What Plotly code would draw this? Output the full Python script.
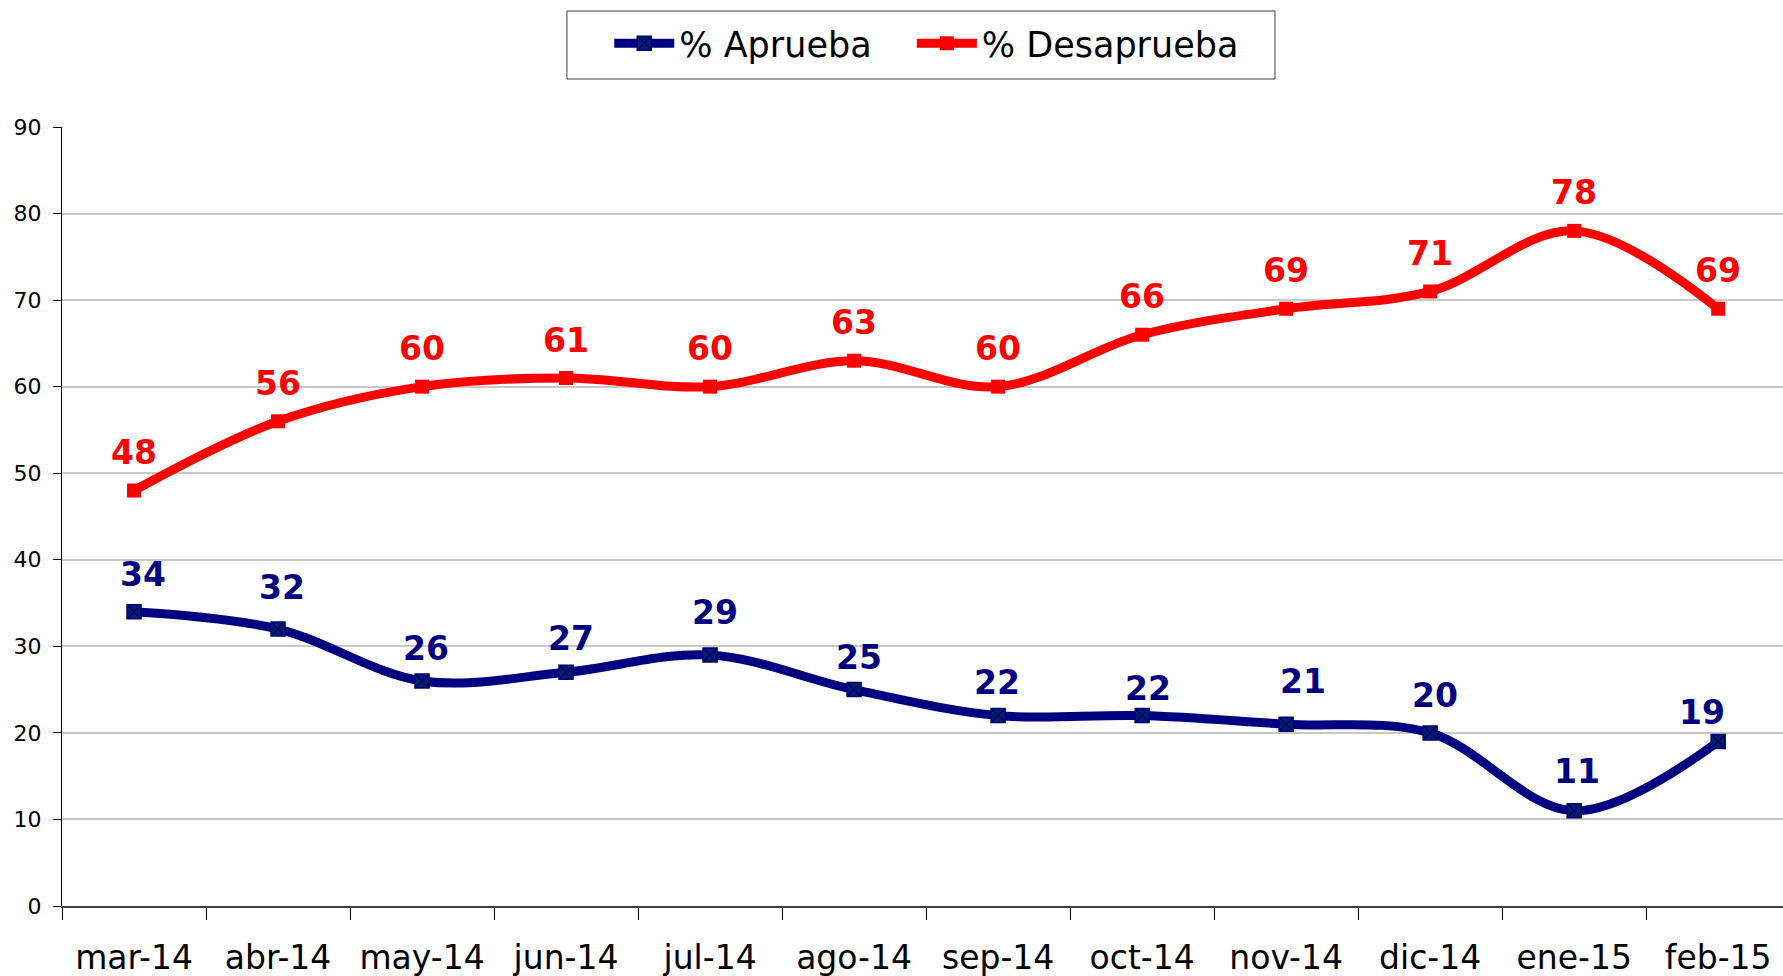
import plotly.graph_objects as go

months = ["mar-14", "abr-14", "may-14", "jun-14", "jul-14", "ago-14",
          "sep-14", "oct-14", "nov-14", "dic-14", "ene-15", "feb-15"]
aprueba = [34, 32, 26, 27, 29, 25, 22, 22, 21, 20, 11, 19]
desaprueba = [48, 56, 60, 61, 60, 63, 60, 66, 69, 71, 78, 69]
yticks = [0, 10, 20, 30, 40, 50, 60, 70, 80, 90]

# label offsets in pixels (style only)
blue_dx = [9, 4, 4, 5, 5, 5, -1, 6, 17, 5, 3, -16]
blue_dy = [37, 42, 32, 34, 42, 32, 33, 27, 43, 37, 39, 29]
red_dx = [0] * 12
red_dy = [38] * 12

FONT = "DejaVu Sans, Verdana, sans-serif"
BLUE = "#000080"
RED = "#FF0000"

fig = go.Figure()
fig.add_trace(go.Scatter(
    x=months, y=aprueba, name="% Aprueba", mode="lines+markers",
    line=dict(color=BLUE, width=9, shape="spline", smoothing=1.0),
    marker=dict(symbol="square-x", size=14, color="#002060",
                line=dict(color=BLUE, width=1.5)),
    legend="legend",
))
fig.add_trace(go.Scatter(
    x=months, y=desaprueba, name="% Desaprueba", mode="lines+markers",
    line=dict(color=RED, width=9, shape="spline", smoothing=1.0),
    marker=dict(symbol="square", size=14, color=RED),
    legend="legend2",
))

annotations = []
for i, m in enumerate(months):
    annotations.append(dict(
        x=m, y=aprueba[i], text=f"<b>{aprueba[i]}</b>", showarrow=False,
        xshift=blue_dx[i], yshift=blue_dy[i],
        font=dict(family=FONT, size=33, color=BLUE),
        xanchor="center", yanchor="middle"))
    annotations.append(dict(
        x=m, y=desaprueba[i], text=f"<b>{desaprueba[i]}</b>", showarrow=False,
        xshift=red_dx[i], yshift=red_dy[i],
        font=dict(family=FONT, size=33, color=RED),
        xanchor="center", yanchor="middle"))

legend_style = dict(
    orientation="h", xanchor="left", y=1.145, yanchor="top",
    font=dict(family=FONT, size=35, color="black"),
    borderwidth=0, bgcolor="rgba(0,0,0,0)", itemwidth=60,
)

fig.update_layout(
    width=1783, height=976,
    margin=dict(l=62, r=0, t=127, b=70, autoexpand=False),
    paper_bgcolor="white", plot_bgcolor="white",
    font=dict(family=FONT, color="black"),
    showlegend=True,
    legend=dict(x=0.318, **legend_style),
    legend2=dict(x=0.4938, **legend_style),
    shapes=[dict(type="rect", xref="paper", yref="paper",
                 x0=0.2934, x1=0.7048, y0=1.0616, y1=1.1489,
                 line=dict(color="#404040", width=1), fillcolor="rgba(0,0,0,0)",
                 layer="below")],
    annotations=annotations,
    xaxis=dict(
        type="category", range=[-0.5, 11.45],
        showgrid=False, showline=True, linecolor="#404040", linewidth=2,
        ticks="outside", ticklen=12, tickcolor="black", tickwidth=1,
        tickson="boundaries",
        tickfont=dict(family=FONT, size=33, color="black"),
        ticklabelstandoff=21,
        zeroline=False,
    ),
    yaxis=dict(
        range=[0, 90], tickvals=yticks, ticktext=[str(v) for v in yticks],
        showgrid=True, gridcolor="#C8C8C8", gridwidth=2,
        showline=True, linecolor="black", linewidth=1,
        ticks="outside", ticklen=8, tickcolor="black",
        tickfont=dict(family=FONT, size=22, color="black"),
        ticklabelstandoff=7, zeroline=False,
    ),
)

fig.write_html(
    "out.html",
    config={"displayModeBar": False},
    post_script="document.body.style.margin='0';document.body.style.overflow='hidden';",
)
